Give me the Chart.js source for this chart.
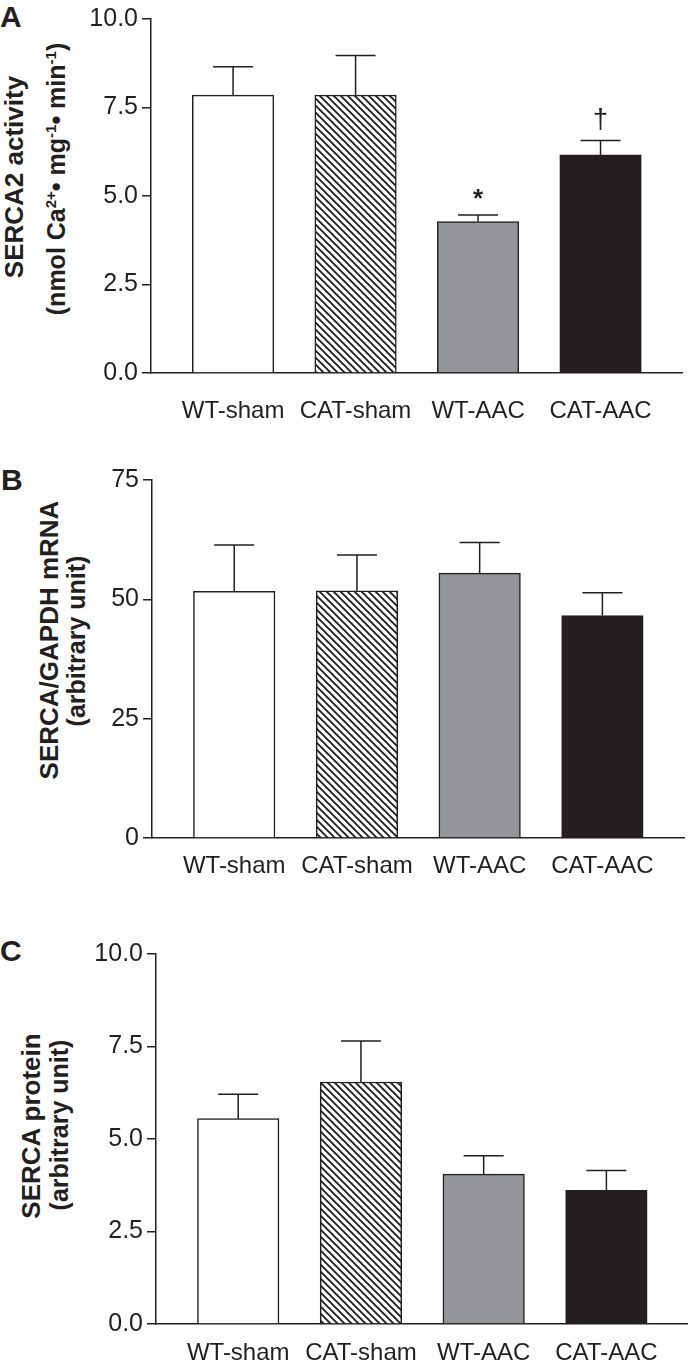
<!DOCTYPE html>
<html>
<head>
<meta charset="utf-8">
<script src="https://cdn.jsdelivr.net/npm/chart.js@4.4.1/dist/chart.umd.min.js"></script>
<style>
  body { margin: 0; background: #fff; width: 688px; height: 1368px; position: relative; overflow: hidden;
         font-family: "Liberation Sans", Arial, sans-serif; color: #231f20; }
  canvas { position: absolute; left: 0; }
  .lbl { position: absolute; font-weight: bold; font-size: 30px; line-height: 30px; }
  .yt { position: absolute; width: 400px; height: 28px; line-height: 28px; font-weight: bold;
        text-align: center; white-space: nowrap; transform: rotate(-90deg); }
  .yt sup { font-size: 15px; line-height: 0; vertical-align: 0.6em; }
</style>
</head>
<body>
<div class="lbl" style="left:0;top:2px">A</div>
<div class="lbl" style="left:1px;top:465px">B</div>
<div class="lbl" style="left:0;top:936px">C</div>

<div class="yt" style="font-size:26px;left:-186px;top:163px">SERCA2 activity</div>
<div class="yt" style="font-size:25px;left:-144px;top:165px">(nmol Ca<sup>2+</sup>• mg<sup>-1</sup>• min<sup>-1</sup>)</div>
<div class="yt" style="font-size:26px;left:-151px;top:626px">SERCA/GAPDH mRNA</div>
<div class="yt" style="font-size:25px;left:-124px;top:627px">(arbitrary unit)</div>
<div class="yt" style="font-size:26px;left:-169px;top:1112px">SERCA protein</div>
<div class="yt" style="font-size:25px;left:-141px;top:1111px">(arbitrary unit)</div>

<canvas id="chartA" width="688" height="432" style="top:0"></canvas>
<canvas id="chartB" width="688" height="460" style="top:440px"></canvas>
<canvas id="chartC" width="688" height="438" style="top:930px"></canvas>

<script>
// values (mean and upper SEM)
const groups = ['WT-sham', 'CAT-sham', 'WT-AAC', 'CAT-AAC'];

const activityMean = [7.85, 7.85, 4.28, 6.16];
const activitySem = [0.80, 1.12, 0.18, 0.41];
const activityMarks = ['', '', '*', '†'];
const activityTicks = [0, 2.5, 5, 7.5, 10];

const mrnaMean = [51.7, 51.8, 55.5, 46.6];
const mrnaSem = [9.7, 7.5, 6.4, 4.8];
const mrnaTicks = [0, 25, 50, 75];

const proteinMean = [5.55, 6.54, 4.05, 3.61];
const proteinSem = [0.66, 1.11, 0.50, 0.54];
const proteinTicks = [0, 2.5, 5, 7.5, 10];

const ink = '#231f20';

function hatch() {
  const s = 7;
  const c = document.createElement('canvas');
  c.width = c.height = s;
  const g = c.getContext('2d');
  g.fillStyle = '#fff';
  g.fillRect(0, 0, s, s);
  g.strokeStyle = ink;
  g.lineWidth = 1.9;
  g.beginPath();
  g.moveTo(-1, -1); g.lineTo(s + 1, s + 1);
  g.moveTo(-1, s - 1); g.lineTo(1, s + 1);
  g.moveTo(s - 1, -1); g.lineTo(s + 1, 1);
  g.stroke();
  return g.createPattern(c, 'repeat');
}

const fills = ['#ffffff', hatch(), '#939598', ink];

// SEM whiskers (upward only) plus significance marks
const errorBars = {
  id: 'errorBars',
  afterDatasetsDraw(chart, args, opts) {
    const ctx = chart.ctx;
    const y = chart.scales.y;
    const ds = chart.data.datasets[0];
    ctx.save();
    ctx.strokeStyle = ink;
    ctx.fillStyle = ink;
    ctx.lineWidth = 1.5;
    chart.getDatasetMeta(0).data.forEach((bar, i) => {
      const top = y.getPixelForValue(ds.data[i].y + opts.sem[i]);
      ctx.beginPath();
      ctx.moveTo(bar.x, bar.y);
      ctx.lineTo(bar.x, top);
      ctx.moveTo(bar.x - 20, top);
      ctx.lineTo(bar.x + 20, top);
      ctx.stroke();
      const m = opts.marks ? opts.marks[i] : '';
      if (m === '*') {
        ctx.font = 'bold 26px "Liberation Sans", Arial, sans-serif';
        ctx.textAlign = 'center';
        ctx.fillText(m, bar.x, top - 8);
      } else if (m) {
        ctx.font = '27px "Liberation Sans", Arial, sans-serif';
        ctx.textAlign = 'center';
        ctx.fillText(m, bar.x, top - 12);
      }
    });
    ctx.restore();
  }
};

function makePanel(id, mean, sem, marks, yTicks, digits, geo) {
  const c = document.getElementById(id);
  return new Chart(c.getContext('2d'), {
    type: 'bar',
    data: {
      datasets: [{
        data: mean.map((v, i) => ({ x: i, y: v })),
        backgroundColor: fills,
        borderColor: ink,
        borderWidth: 1.5,
        barThickness: 81.5
      }]
    },
    options: {
      responsive: false,
      animation: false,
      layout: { padding: { left: 0, right: geo.right, top: geo.top, bottom: 0 } },
      plugins: {
        legend: { display: false },
        tooltip: { enabled: false },
        errorBars: { sem: sem, marks: marks }
      },
      scales: {
        x: {
          type: 'linear',
          offset: false,
          min: -0.67,
          max: 3.665,
          afterBuildTicks: (s) => { s.ticks = groups.map((g, i) => ({ value: i })); },
          afterFit: (s) => { s.height = geo.xh; },
          grid: { display: false },
          border: { display: true, color: ink, width: 1.5 },
          ticks: {
            padding: geo.xpad,
            color: ink,
            maxRotation: 0,
            autoSkip: false,
            font: { family: '"Liberation Sans", Arial, sans-serif', size: 24 },
            callback: (v) => groups[v]
          }
        },
        y: {
          min: yTicks[0],
          max: yTicks[yTicks.length - 1],
          afterBuildTicks: (s) => { s.ticks = yTicks.map((v) => ({ value: v })); },
          afterFit: (s) => { s.width = geo.axisX; },
          grid: { drawOnChartArea: false, color: ink, lineWidth: 1.5, tickLength: 9 },
          border: { display: true, color: ink, width: 1.5 },
          ticks: {
            padding: 4,
            color: ink,
            font: { family: '"Liberation Sans", Arial, sans-serif', size: 25 },
            callback: (v) => v.toFixed(digits)
          }
        }
      }
    },
    plugins: [errorBars]
  });
}

makePanel('chartA', activityMean, activitySem, activityMarks, activityTicks, 1,
  { axisX: 151, right: 6, top: 16, xh: 59, xpad: 16 });
makePanel('chartB', mrnaMean, mrnaSem, null, mrnaTicks, 0,
  { axisX: 152, right: 4, top: 40, xh: 62, xpad: 6 });
makePanel('chartC', proteinMean, proteinSem, null, proteinTicks, 1,
  { axisX: 156, right: 0, top: 24, xh: 44, xpad: 7 });
</script>
</body>
</html>
